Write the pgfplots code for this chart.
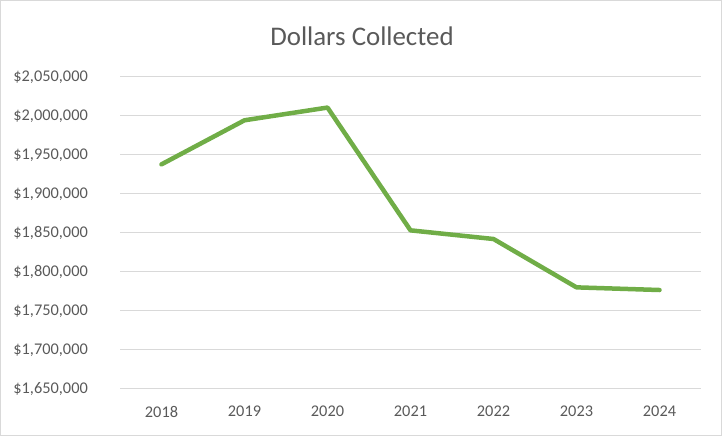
\documentclass[border=0pt]{standalone}
\usepackage{pgfplots}
\pgfplotsset{compat=1.18}
\usepackage{fontspec}
\setmainfont{Carlito}
\definecolor{linegreen}{HTML}{70AD47}
\definecolor{txtgray}{HTML}{595959}
\definecolor{gridgray}{HTML}{D9D9D9}
\begin{document}
\begin{tikzpicture}[x=1bp,y=1bp]
\path[use as bounding box] (0,0) rectangle (722,436);
\draw[gridgray, line width=1.2bp] (0.6,0.6) rectangle (721.4,435.4);
\node[text=txtgray, font=\fontsize{27}{32}\selectfont, anchor=center] at (362,400) {Dollars Collected};
\begin{axis}[
  at={(120bp,47bp)}, anchor=south west,
  scale only axis,
  width=581bp, height=312bp,
  xmin=-0.5, xmax=6.5,
  ymin=1650000, ymax=2050000,
  xtick={0,1,2,3,4,5,6},
  xticklabels={2018,2019,2020,2021,2022,2023,2024},
  ytick={1650000,1700000,1750000,1800000,1850000,1900000,1950000,2000000,2050000},
  scaled y ticks=false,
  yticklabel={\$\pgfmathprintnumber[fixed,precision=0,1000 sep={,},assume math mode=true]{\tick}},
  axis x line*=bottom,
  axis y line*=left,
  x axis line style={gridgray, line width=1bp, -},
  y axis line style={draw=none, -},
  ymajorgrids, grid style={gridgray, line width=1bp},
  major tick length=0pt,
  tick style={draw=none},
  ticklabel style={text=txtgray, font=\fontsize{16.4}{19}\selectfont, inner sep=0pt},
  yticklabel style={anchor=east, xshift=-12bp},
  yticklabel shift=20bp,
  xticklabel shift=17bp,
  clip=false,
]
\addplot[linegreen, line width=4.5bp, line join=round, line cap=round] coordinates {
 (0,1938000) (1,1994500) (2,2010800) (3,1853400) (4,1842300) (5,1780300) (6,1776900)
};
\end{axis}
\end{tikzpicture}
\end{document}
